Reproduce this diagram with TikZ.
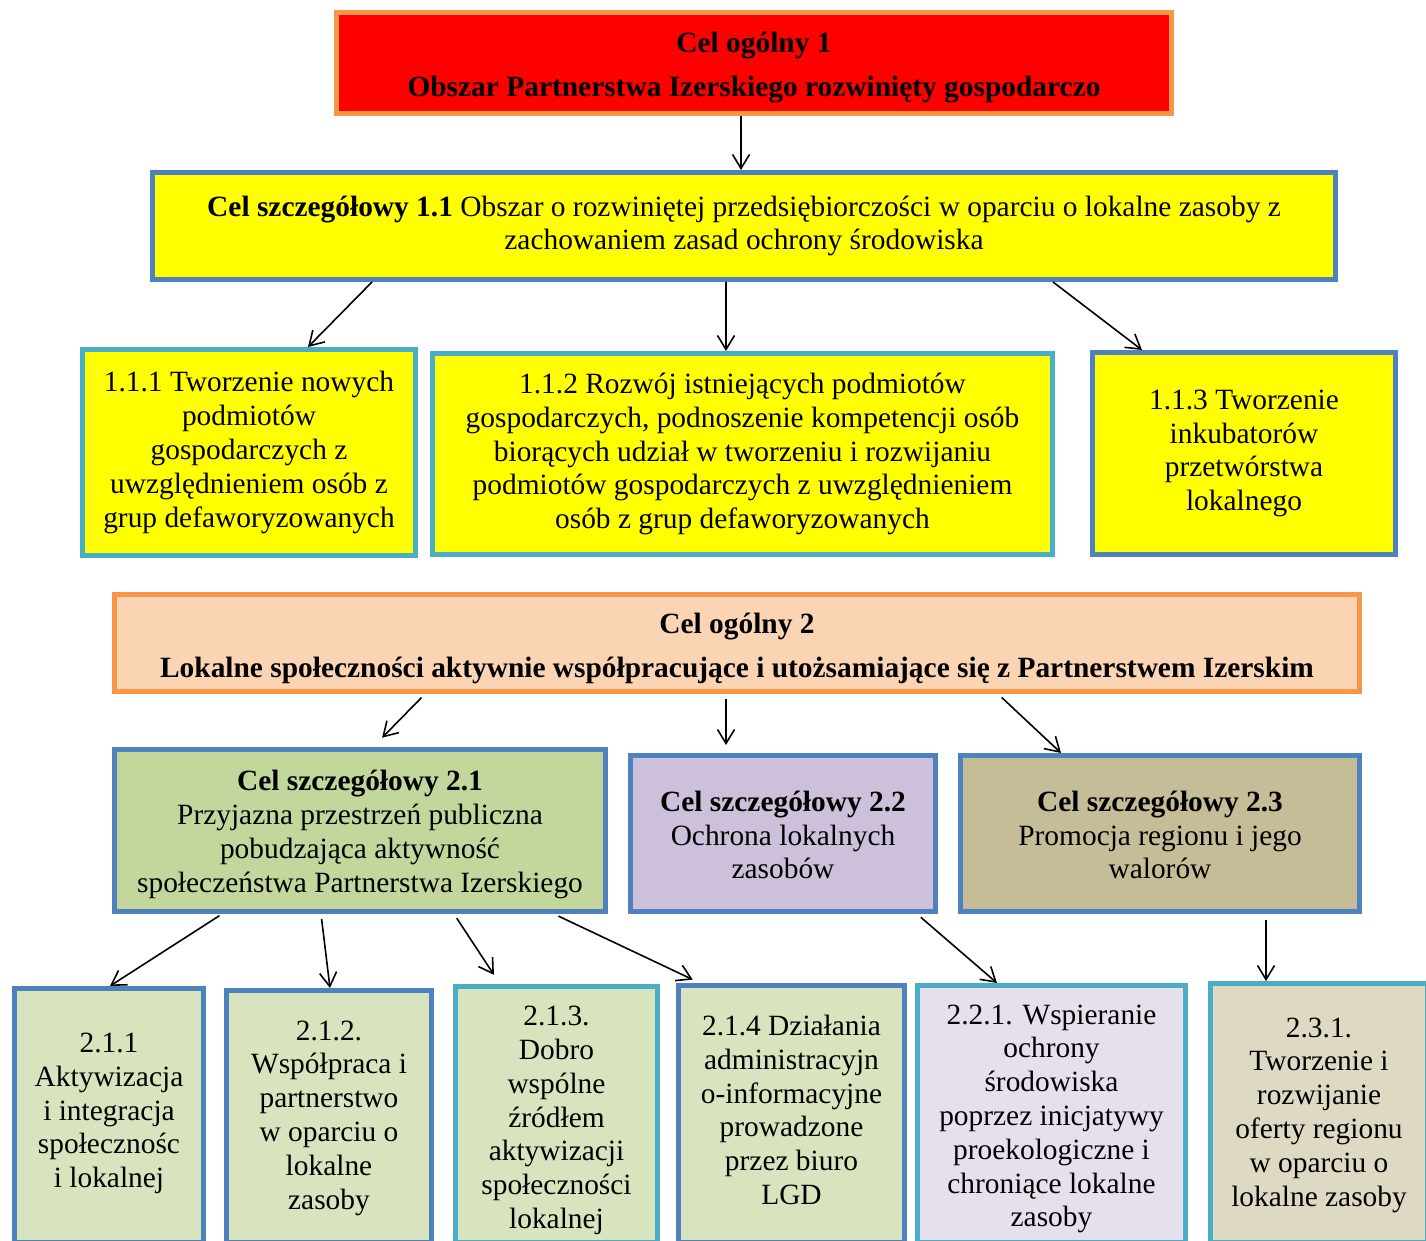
\documentclass[tikz,border=0pt]{standalone}
\usepackage{fontspec}
\setmainfont{Liberation Serif}
\usetikzlibrary{arrows.meta}
\definecolor{borO}{HTML}{F79646}
\definecolor{borB}{HTML}{4F81BD}
\definecolor{borC}{HTML}{4BACC6}
\definecolor{fRed}{HTML}{FF0000}
\definecolor{fYel}{HTML}{FFFF00}
\definecolor{fPeach}{HTML}{FBD4B4}
\definecolor{fGreen}{HTML}{C3D69B}
\definecolor{fLav}{HTML}{CCC0DA}
\definecolor{fTan}{HTML}{C4BD97}
\definecolor{fLGreen}{HTML}{D7E4BD}
\definecolor{fLLav}{HTML}{E5E0EC}
\definecolor{fLTan}{HTML}{DDD9C3}
\begin{document}
\begin{tikzpicture}[x=1pt,y=-1pt,
  txt/.style={align=center, inner sep=0pt, font=\fontsize{29.4}{33.8}\selectfont},
  box/.style={txt, draw, line width=5pt},
  arr/.style={line width=1.6pt, -{Straight Barb[length=14pt,width=17pt,line width=1.6pt]}}]
\fill[white] (0,0) rectangle (1426,1240);
\useasboundingbox (0,0) rectangle (1426,1240);

\node[box, draw=borO, fill=fRed, minimum width=835, minimum height=101] (A) at (754,63) {};
\node[txt] (At) at (754,67.5)
  {\textbf{Cel ogólny 1}\\[11pt]\textbf{Obszar Partnerstwa Izerskiego rozwinięty gospodarczo}};
\node[box, draw=borB, fill=fYel, minimum width=1183, minimum height=107] (B) at (744,226)
  {\textbf{Cel szczegółowy 1.1} Obszar o rozwiniętej przedsiębiorczości w oparciu o lokalne zasoby z\\zachowaniem zasad ochrony środowiska};
\node[box, draw=borC, fill=fYel, minimum width=333, minimum height=206] (n111) at (249,452.5)
  {1.1.1 Tworzenie nowych\\podmiotów\\gospodarczych z\\uwzględnieniem osób z\\grup defaworyzowanych};
\node[box, draw=borC, fill=fYel, minimum width=620, minimum height=201] (n112) at (742.5,454)
  {1.1.2 Rozwój istniejących podmiotów\\gospodarczych, podnoszenie kompetencji osób\\biorących udział w tworzeniu i rozwijaniu\\podmiotów gospodarczych z uwzględnieniem\\osób z grup defaworyzowanych};
\node[box, draw=borB, fill=fYel, minimum width=303, minimum height=202] (n113) at (1244,453.5)
  {1.1.3 Tworzenie\\inkubatorów\\przetwórstwa\\lokalnego};

\node[box, draw=borO, fill=fPeach, minimum width=1245, minimum height=97] (C) at (737,643) {};
\node[txt] (Ct) at (737,648.5)
  {\textbf{Cel ogólny 2}\\[10pt]\textbf{Lokalne społeczności aktywnie współpracujące i utożsamiające się z Partnerstwem Izerskim}};
\node[box, draw=borB, fill=fGreen, minimum width=491, minimum height=162] (n21) at (360,830.5) {};
\node[txt] (n21t) at (360,834.5)
  {\textbf{Cel szczegółowy 2.1}\\Przyjazna przestrzeń publiczna\\pobudzająca aktywność\\społeczeństwa Partnerstwa Izerskiego};
\node[box, draw=borB, fill=fLav, minimum width=305, minimum height=156] (n22) at (783,833.5) {};
\node[txt] (n22t) at (783,835)
  {\textbf{Cel szczegółowy 2.2}\\Ochrona lokalnych\\zasobów};
\node[box, draw=borB, fill=fTan, minimum width=399, minimum height=156] (n23) at (1160,833.5) {};
\node[txt] (n23t) at (1160,835)
  {\textbf{Cel szczegółowy 2.3}\\Promocja regionu i jego\\walorów};

\node[box, draw=borB, fill=fLGreen, minimum width=189, minimum height=254] (n211) at (109,1115.5) {};
\node[txt] (n211t) at (109,1113.5)
  {2.1.1\\Aktywizacja\\i integracja\\społecznośc\\i lokalnej};
\node[box, draw=borB, fill=fLGreen, minimum width=205, minimum height=252] (n212) at (329,1116.5) {};
\node[txt] (n212t) at (329,1118)
  {2.1.2.\\Współpraca i\\partnerstwo\\w oparciu o\\lokalne\\zasoby};
\node[box, draw=borC, fill=fLGreen, minimum width=202, minimum height=256] (n213) at (556.5,1114.5) {};
\node[txt] (n213t) at (556.5,1120.5)
  {2.1.3.\\Dobro\\wspólne\\źródłem\\aktywizacji\\społeczności\\lokalnej};
\node[box, draw=borB, fill=fLGreen, minimum width=226, minimum height=257] (n214) at (791.5,1114) {};
\node[txt] (n214t) at (791.5,1110)
  {2.1.4 Działania\\administracyjn\\o-informacyjne\\prowadzone\\przez biuro\\LGD};
\node[box, draw=borC, fill=fLLav, minimum width=268, minimum height=257] (n221) at (1051.5,1114) {};
\node[txt] (n221t) at (1051.5,1119)
  {2.2.1. Wspieranie\\ochrony\\środowiska\\poprzez inicjatywy\\proekologiczne i\\chroniące lokalne\\zasoby};
\node[box, draw=borC, fill=fLTan, minimum width=217, minimum height=259] (n231) at (1319,1113) {};
\node[txt] (n231t) at (1319,1115)
  {2.3.1.\\Tworzenie i\\rozwijanie\\oferty regionu\\w oparciu o\\lokalne zasoby};

\draw[arr] ([xshift=-13pt]A.south) -- ([xshift=-13pt]A.south |- B.north);
\draw[arr] ([xshift=-372pt]B.south) -- ([xshift=59pt]n111.north);
\draw[arr] ([xshift=-18pt]B.south) -- ([xshift=-18pt]B.south |- n112.north);
\draw[arr] ([xshift=309pt]B.south) -- ([xshift=-102pt]n113.north);

\draw[arr, shorten <=5pt, shorten >=13pt] ([xshift=-312pt]C.south) -- ([xshift=13pt]n21.north);
\draw[arr, shorten <=5pt, shorten >=8pt] ([xshift=-11pt]C.south) -- ([xshift=-11pt]C.south |- n22.north);
\draw[arr, shorten <=5pt] ([xshift=261pt]C.south) -- ([xshift=-99pt]n23.north);

\draw[arr, shorten <=3pt] ([xshift=-138pt]n21.south) -- ([xshift=1pt]n211.north);
\draw[arr, shorten <=5pt] ([xshift=-39pt]n21.south) -- ([xshift=1pt]n212.north);
\draw[arr, shorten <=5pt, shorten >=11pt] ([xshift=94pt]n21.south) -- ([xshift=-56.5pt]n213.north);
\draw[arr, shorten <=5pt, shorten >=8pt] ([xshift=194pt]n21.south) -- ([xshift=-91.5pt]n214.north);
\draw[arr, shorten <=5pt] ([xshift=134pt]n22.south) -- ([xshift=-54.5pt]n221.north);
\draw[arr, shorten <=6pt] ([xshift=106pt]n23.south) -- ([xshift=106pt]n23.south |- n231.north);
\end{tikzpicture}
\end{document}
